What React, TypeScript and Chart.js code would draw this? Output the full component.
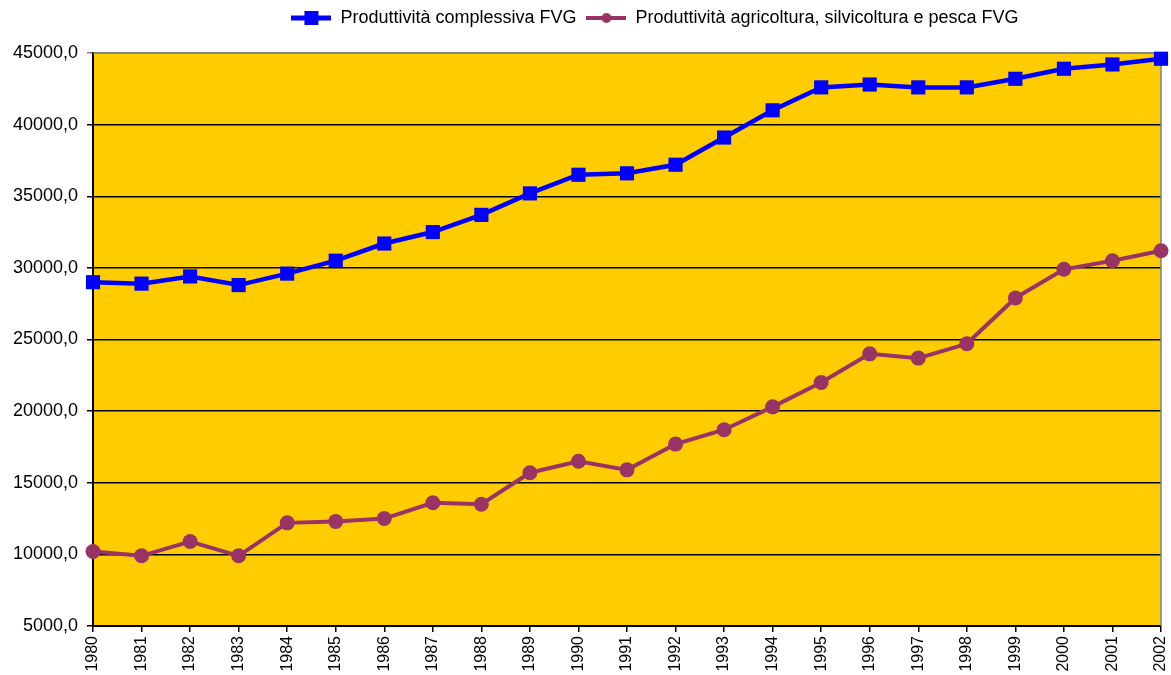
import { useEffect, useRef } from 'react';
import { Chart, registerables } from 'chart.js';

Chart.register(...registerables);

const years = ['1980', '1981', '1982', '1983', '1984', '1985', '1986', '1987', '1988', '1989', '1990', '1991', '1992', '1993', '1994', '1995', '1996', '1997', '1998', '1999', '2000', '2001', '2002'];

const totalProductivity = [29000, 28900, 29400, 28800, 29600, 30500, 31700, 32500, 33700, 35200, 36500, 36600, 37200, 39100, 41000, 42600, 42800, 42600, 42600, 43200, 43900, 44200, 44600];

const agriProductivity = [10200, 9900, 10900, 9900, 12200, 12300, 12500, 13600, 13500, 15700, 16500, 15900, 17700, 18700, 20300, 22000, 24000, 23700, 24700, 27900, 29900, 30500, 31200];

const seriesNames = ['Produttività complessiva FVG', 'Produttività agricoltura, silvicoltura e pesca FVG'];

const yMin = 5000;
const yMax = 45000;
const yStep = 5000;

const BLUE = '#0000FF';
const PURPLE = '#993366';
const FONT = "'Liberation Sans', Arial, sans-serif";

function makeLegendIcon(color: string, shape: 'square' | 'circle'): HTMLCanvasElement {
  const c = document.createElement('canvas');
  c.width = 40;
  c.height = 16;
  const ctx = c.getContext('2d')!;
  ctx.strokeStyle = color;
  ctx.lineWidth = shape === 'square' ? 5 : 4;
  ctx.beginPath();
  ctx.moveTo(0, 8);
  ctx.lineTo(40, 8);
  ctx.stroke();
  ctx.fillStyle = color;
  if (shape === 'square') {
    ctx.fillRect(13, 1, 14, 14);
  } else {
    ctx.beginPath();
    ctx.arc(20, 8, 5, 0, Math.PI * 2);
    ctx.fill();
  }
  return c;
}

const plotBackground = {
  id: 'plotBackground',
  beforeDraw(chart: any) {
    const { ctx, chartArea } = chart;
    ctx.save();
    ctx.fillStyle = '#FFFFFF';
    ctx.fillRect(0, 0, chart.width, chart.height);
    ctx.fillStyle = '#FFCC00';
    ctx.fillRect(chartArea.left, chartArea.top, chartArea.right - chartArea.left, chartArea.bottom - chartArea.top);
    ctx.restore();
  },
  beforeDatasetsDraw(chart: any) {
    const { ctx, chartArea } = chart;
    ctx.save();
    ctx.strokeStyle = '#808080';
    ctx.lineWidth = 1.5;
    ctx.beginPath();
    ctx.moveTo(chartArea.left, chartArea.top);
    ctx.lineTo(chartArea.right, chartArea.top);
    ctx.lineTo(chartArea.right, chartArea.bottom);
    ctx.stroke();
    ctx.restore();
  },
};

const legendShift = {
  id: 'legendShift',
  afterLayout(chart: any) {
    const lg = chart.legend;
    if (!lg) return;
    lg.left += 139;
    lg.top -= 16;
    lg.bottom -= 16;
  },
};

export default function App() {
  const ref = useRef<HTMLCanvasElement>(null);

  useEffect(() => {
    document.body.style.margin = '0';
    const icons = [makeLegendIcon(BLUE, 'square'), makeLegendIcon(PURPLE, 'circle')];
    const chart = new Chart(ref.current!, {
      type: 'line',
      data: {
        labels: years,
        datasets: [
          {
            label: seriesNames[0],
            data: totalProductivity,
            borderColor: BLUE,
            backgroundColor: BLUE,
            borderWidth: 4.5,
            pointStyle: 'rect',
            pointRadius: 10,
            pointBackgroundColor: BLUE,
            pointBorderWidth: 0,
            tension: 0,
            clip: false as any,
          },
          {
            label: seriesNames[1],
            data: agriProductivity,
            borderColor: PURPLE,
            backgroundColor: PURPLE,
            borderWidth: 4,
            pointStyle: 'circle',
            pointRadius: 7.5,
            pointBackgroundColor: PURPLE,
            pointBorderWidth: 0,
            tension: 0,
            clip: false as any,
          },
        ],
      },
      options: {
        responsive: false,
        animation: false,
        devicePixelRatio: 1,
        layout: { padding: { top: 15, right: 0, bottom: 0, left: 0 } },
        plugins: {
          tooltip: { enabled: false },
          legend: {
            position: 'top',
            labels: {
              usePointStyle: true,
              pointStyleWidth: 40,
              boxHeight: 16,
              padding: 10,
              color: '#000',
              font: { size: 18, family: FONT },
              generateLabels: (ch: any) => {
                const items = Chart.defaults.plugins.legend.labels.generateLabels(ch);
                return items.map((it: any, i: number) => ({ ...it, pointStyle: icons[i] }));
              },
            },
          },
        },
        scales: {
          x: {
            offset: false,
            border: { color: '#000', width: 2 },
            grid: { drawOnChartArea: false, drawTicks: true, tickLength: 6, color: '#000', lineWidth: 1.5 },
            ticks: { minRotation: 90, maxRotation: 90, padding: 4, color: '#000', font: { size: 16, family: FONT }, autoSkip: false },
            afterFit: (s: any) => { s.height = 49; s.paddingRight = 9; s.paddingLeft = 0; },
          },
          y: {
            min: yMin,
            max: yMax,
            border: { color: '#000', width: 2 },
            grid: {
              color: (c: any) => (c.tick && c.tick.value === yMax ? '#808080' : '#000'),
              lineWidth: 1.5,
              tickLength: 6,
            },
            ticks: {
              stepSize: yStep,
              padding: 9,
              color: '#000',
              font: { size: 18, family: FONT },
              callback: (v: any) => Number(v).toFixed(1).replace('.', ','),
            },
            afterFit: (s: any) => { s.width = 93; },
          },
        },
      },
      plugins: [plotBackground, legendShift],
    });
    return () => chart.destroy();
  }, []);

  return (
    <div style={{ width: 1171, height: 675 }}>
      <canvas ref={ref} width={1171} height={675} style={{ width: 1171, height: 675, display: 'block' }} />
    </div>
  );
}
